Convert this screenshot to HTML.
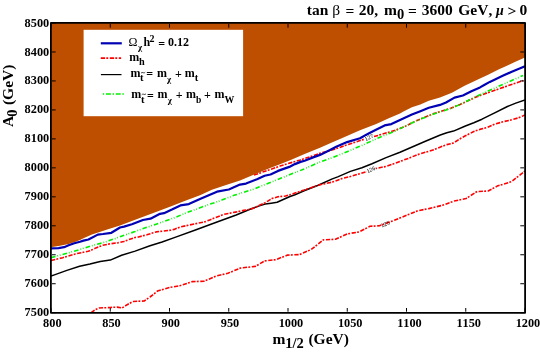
<!DOCTYPE html>
<html><head><meta charset="utf-8"><title>plot</title>
<style>
html,body{margin:0;padding:0;background:#fff;}
body{width:540px;height:355px;overflow:hidden;}
svg{display:block;}
text{font-family:"Liberation Serif",serif;font-weight:bold;fill:#000;font-kerning:none;}
.tk text{font-size:12.3px;}
.big{font-size:15px;}
.lg{font-size:12px;}
.sub{font-size:8.7px;}
.reg{font-weight:normal;}
</style></head><body>
<svg width="540" height="355" viewBox="0 0 540 355">
<rect x="0" y="0" width="540" height="355" fill="#fff"/>
<mask id="mk"><rect x="0" y="0" width="540" height="355" fill="#fff"/></mask>
<clipPath id="cp"><rect x="51" y="23" width="474" height="289.7"/></clipPath>
<g clip-path="url(#cp)" fill="none" stroke-linejoin="round">
<polyline points="254.0,175.0 256.2,174.3 262.0,172.3 268.0,170.2 280.0,166.1 286.0,164.2 300.4,160.0 313.1,155.7 320.0,153.2 331.0,150.3 340.4,147.2 345.0,145.4 350.5,143.8 361.9,139.9 378.8,135.2 395.7,130.1 405.0,126.4 416.9,120.4 433.8,113.6 450.7,108.2 460.0,104.4 476.1,97.0 497.3,89.4 523.0,80.6" stroke="#ff0000" stroke-width="1.6" stroke-dasharray="4.3 1.2 1.9 1.6"/>
<polygon points="51.0,23.0 525.0,23.0 525.0,57.5 515.4,61.8 506.9,65.7 498.5,69.5 487.6,74.9 480.0,78.6 464.6,85.8 451.9,92.7 440.0,97.4 428.8,100.8 420.4,104.6 411.9,107.2 403.5,111.4 400.0,113.5 388.8,118.2 376.2,124.1 360.0,130.2 344.6,137.0 331.9,142.5 320.0,147.8 304.6,154.1 291.9,159.6 280.0,164.3 268.8,168.6 256.2,173.7 240.0,180.5 224.6,185.5 211.9,189.7 200.0,195.2 184.6,200.9 171.9,206.0 160.0,210.5 144.6,216.3 131.9,221.0 120.0,225.5 108.8,229.1 100.4,231.7 91.9,234.6 83.5,238.2 80.0,239.9 75.0,242.0 68.6,244.1 58.5,246.1 52.0,247.0 51.0,247.2" fill="#bf4f00" stroke="none"/>
<polyline points="91.2,312.7 94.8,309.9 99.0,308.0 110.3,307.5 117.0,307.1 122.1,308.0 127.2,304.7 132.9,301.5 144.1,301.0 150.0,297.0 157.6,291.0 168.6,287.7 180.5,285.5 192.3,281.6 204.1,281.2 216.0,276.1 227.8,273.3 240.2,268.1 255.4,266.4 264.7,260.9 275.7,259.7 287.5,255.1 299.4,254.6 311.2,249.5 323.5,239.8 335.4,239.3 347.2,233.9 359.1,231.9 370.0,226.3 379.4,225.8 389.5,222.1 395.0,220.0 406.8,215.2 417.8,210.7 428.8,208.6 442.4,205.3 454.2,201.0 466.1,198.5 477.1,191.5 488.1,191.0 497.2,186.1 511.5,181.6 525.0,171.0" stroke="#ff0000" stroke-width="1.6" stroke-dasharray="4.3 1.2 1.9 1.6"/>
<polyline points="51.0,276.0 55.1,274.6 66.9,270.4 79.6,266.2 90.0,263.9 100.2,261.4 110.3,260.1 121.6,255.2 135.1,251.1 150.0,245.8 162.1,242.0 175.0,237.4 195.4,230.0 215.0,222.8 236.2,215.0 250.0,209.2 258.5,206.1 265.2,204.0 271.2,203.2 277.1,202.3 283.8,199.3 290.0,196.5 295.0,194.7 304.1,190.8 318.2,185.2 332.3,178.9 337.7,176.9 350.4,171.4 361.9,167.8 372.0,163.8 386.1,157.6 400.0,152.2 412.7,146.8 425.4,141.3 440.3,135.0 446.8,132.8 453.5,131.1 465.4,126.0 473.8,122.7 482.0,119.2 494.7,112.8 507.4,106.5 515.8,103.1 525.0,99.9" stroke="#000" stroke-width="1.5"/>
<polyline points="51.0,260.4 52.1,260.2 62.7,257.7 75.4,253.9 88.1,251.3 90.0,250.8 95.9,247.9 102.7,245.3 109.5,243.9 117.9,242.8 123.8,241.5 130.6,239.0 135.0,237.5 138.5,237.0 146.9,234.8 156.2,231.9 163.8,231.0 170.6,230.2 175.0,229.1 180.2,226.9 189.5,225.0 198.8,223.0 203.8,222.2 209.8,219.9 215.0,217.8 224.4,214.2 235.4,212.1 243.8,210.4 249.8,209.4 255.0,207.8 258.5,205.7 265.2,202.7 272.0,198.5 277.9,196.8 285.5,196.0 290.0,194.8 295.0,193.0 304.1,190.1 318.2,185.2 332.3,182.1 341.9,178.6 350.4,176.5 358.8,174.0 367.3,171.4 375.4,168.6 386.1,166.4 394.6,163.5 402.0,160.7 408.5,158.3 416.9,154.9 425.4,152.3 433.8,149.8 440.0,147.2 446.8,144.6 453.5,143.0 459.5,139.1 465.4,135.8 473.8,131.5 479.8,129.4 486.2,127.8 494.7,124.2 503.2,121.7 511.6,119.8 518.4,117.9 525.0,115.0" stroke="#ff0000" stroke-width="1.6" stroke-dasharray="4.3 1.2 1.9 1.6"/>
<polyline points="51.0,257.7 55.5,256.4 67.8,253.0 79.2,249.7 91.6,245.8 103.5,242.6 115.8,238.3 127.6,234.1 135.0,231.6 138.5,230.2 150.7,226.0 162.6,222.0 175.0,217.5 186.1,212.9 197.9,208.5 209.8,204.2 215.0,202.6 221.8,200.1 234.1,195.3 246.0,191.6 255.0,188.8 257.6,187.5 270.3,182.4 290.0,174.6 304.1,169.0 318.2,162.7 332.3,157.7 347.7,151.4 361.9,145.4 378.8,137.7 395.7,131.0 400.0,128.6 416.9,120.6 433.8,114.0 450.7,108.5 460.0,104.6 476.1,96.4 497.3,86.9 523.0,75.5" stroke="#00f000" stroke-width="1.6" stroke-dasharray="4.6 2 0.8 1.7 0.8 2.1"/>
<polyline points="51.0,248.3 58.5,248.1 64.1,247.2 68.6,245.3 74.3,243.2 80.0,241.7 83.5,240.6 88.5,239.5 97.8,234.6 102.9,234.0 111.4,232.8 120.0,227.5 124.0,226.6 131.9,224.2 142.9,220.0 150.5,218.7 160.0,213.8 164.0,213.2 171.9,209.6 180.4,205.4 188.8,204.1 200.0,199.0 211.1,194.2 217.0,191.7 228.8,189.5 240.0,184.6 246.0,183.6 257.0,179.2 264.6,175.8 270.5,174.5 278.0,170.9 283.6,168.9 289.3,166.9 294.9,164.1 300.6,161.9 304.6,160.7 313.1,157.4 320.0,154.9 325.0,152.6 330.5,149.8 336.2,146.8 347.1,142.1 360.0,138.3 369.1,133.2 377.0,129.2 384.6,125.4 391.4,124.1 400.0,119.9 411.9,114.6 420.4,111.2 428.8,107.8 440.0,104.9 446.0,102.5 454.5,97.6 462.9,95.5 471.4,91.3 480.0,87.4 484.2,85.0 489.8,81.9 495.0,79.5 502.7,75.8 511.2,72.0 519.6,68.6 525.0,66.2" stroke="#0000b4" stroke-width="2.2"/>
</g>
<!-- contour labels -->
<g mask="url(#mk)" style="font-family:'Liberation Sans',sans-serif">
<g transform="translate(369 137.5) rotate(-25)"><rect x="-4.8" y="-2.3" width="9.6" height="4.6" fill="#fff"/><text x="0" y="1.9" text-anchor="middle" style="font-weight:normal;font-family:'Liberation Sans',sans-serif;font-size:5.4px" fill="#222">127</text></g>
<g transform="translate(370.9 169.6) rotate(-25)"><rect x="-4.8" y="-2.3" width="9.6" height="4.6" fill="#fff"/><text x="0" y="1.9" text-anchor="middle" style="font-weight:normal;font-family:'Liberation Sans',sans-serif;font-size:5.4px" fill="#222">126</text></g>
<g transform="translate(385.3 224.1) rotate(-22)"><text x="0" y="1.9" text-anchor="middle" style="font-weight:normal;font-family:'Liberation Sans',sans-serif;font-size:5.4px" fill="#222">125</text></g>
</g>
<!-- legend -->
<rect x="83.6" y="29.8" width="159.5" height="86.4" fill="#fff"/>
<line x1="100.8" y1="43.3" x2="121.8" y2="43.3" stroke="#0000b4" stroke-width="2.2"/>
<line x1="100.8" y1="58.1" x2="121.1" y2="58.1" stroke="#ff0000" stroke-width="1.6" stroke-dasharray="4.3 1.2 1.9 1.6"/>
<line x1="100.9" y1="74.6" x2="121.5" y2="74.6" stroke="#000" stroke-width="1.2"/>
<line x1="102.8" y1="94" x2="124.2" y2="94" stroke="#00f000" stroke-width="1.6" stroke-dasharray="1.4 1.7 5 1.7"/>
<g mask="url(#mk)"><text x="128.53" y="45.70" style="font-size:12px;font-kerning:none;font-weight:normal;" >Ω</text>
<text x="138.05" y="50.40" style="font-size:9.0px;font-kerning:none;font-weight:bold;" >χ</text>
<text x="143.40" y="45.70" style="font-size:12px;font-kerning:none;font-weight:bold;" >h</text>
<text x="149.38" y="42.00" style="font-size:10px;font-kerning:none;font-weight:bold;" >2</text>
<text x="158.32" y="47.60" style="font-size:12px;font-kerning:none;font-weight:bold;" >=</text>
<text x="168.05" y="45.70" style="font-size:12px;font-kerning:none;font-weight:bold;" >0.12</text>
<text x="129.28" y="60.60" style="font-size:12px;font-kerning:none;font-weight:bold;" >m</text>
<text x="139.10" y="64.60" style="font-size:10.3px;font-kerning:none;font-weight:bold;" >h</text>
<text x="130.47" y="76.80" style="font-size:12px;font-kerning:none;font-weight:bold;" >m</text>
<text x="140.12" y="81.30" style="font-size:10.5px;font-kerning:none;font-weight:bold;" >t</text>
<path d="M141.00,73.10 q1,-1.1 2.1,-0.4 t2.1,-0.5" fill="none" stroke="#222" stroke-width="0.8"/>
<text x="146.32" y="78.40" style="font-size:12px;font-kerning:none;font-weight:bold;" >=</text>
<text x="156.97" y="76.80" style="font-size:12px;font-kerning:none;font-weight:bold;" >m</text>
<text x="166.95" y="81.50" style="font-size:9.0px;font-kerning:none;font-weight:bold;" >χ</text>
<text x="175.12" y="77.70" style="font-size:12px;font-kerning:none;font-weight:bold;" >+</text>
<text x="184.67" y="76.80" style="font-size:12px;font-kerning:none;font-weight:bold;" >m</text>
<text x="194.82" y="81.30" style="font-size:10.5px;font-kerning:none;font-weight:bold;" >t</text>
<text x="131.17" y="98.40" style="font-size:12px;font-kerning:none;font-weight:bold;" >m</text>
<text x="140.92" y="102.90" style="font-size:10.5px;font-kerning:none;font-weight:bold;" >t</text>
<path d="M141.80,94.70 q1,-1.1 2.1,-0.4 t2.1,-0.5" fill="none" stroke="#222" stroke-width="0.8"/>
<text x="146.92" y="100.00" style="font-size:12px;font-kerning:none;font-weight:bold;" >=</text>
<text x="157.57" y="98.40" style="font-size:12px;font-kerning:none;font-weight:bold;" >m</text>
<text x="167.85" y="103.10" style="font-size:9.0px;font-kerning:none;font-weight:bold;" >χ</text>
<text x="175.82" y="99.30" style="font-size:12px;font-kerning:none;font-weight:bold;" >+</text>
<text x="185.97" y="98.40" style="font-size:12px;font-kerning:none;font-weight:bold;" >m</text>
<text x="196.03" y="102.50" style="font-size:9.5px;font-kerning:none;font-weight:bold;" >b</text>
<text x="204.03" y="99.30" style="font-size:12px;font-kerning:none;font-weight:bold;" >+</text>
<text x="214.47" y="98.40" style="font-size:12px;font-kerning:none;font-weight:bold;" >m</text>
<text x="224.53" y="102.70" style="font-size:9.8px;font-kerning:none;font-weight:bold;" >W</text></g>
<!-- frame -->
<rect x="50.9" y="22.9" width="474.2" height="289.9" fill="none" stroke="#000" stroke-width="1.8" stroke-linejoin="round"/>
<g stroke="#000" stroke-width="1">
<line x1="51.00" y1="311.7" x2="51.00" y2="308.0"/>
<line x1="51.00" y1="24" x2="51.00" y2="27.7"/>
<line x1="110.25" y1="311.7" x2="110.25" y2="308.0"/>
<line x1="110.25" y1="24" x2="110.25" y2="27.7"/>
<line x1="169.50" y1="311.7" x2="169.50" y2="308.0"/>
<line x1="169.50" y1="24" x2="169.50" y2="27.7"/>
<line x1="228.75" y1="311.7" x2="228.75" y2="308.0"/>
<line x1="228.75" y1="24" x2="228.75" y2="27.7"/>
<line x1="288.00" y1="311.7" x2="288.00" y2="308.0"/>
<line x1="288.00" y1="24" x2="288.00" y2="27.7"/>
<line x1="347.25" y1="311.7" x2="347.25" y2="308.0"/>
<line x1="347.25" y1="24" x2="347.25" y2="27.7"/>
<line x1="406.50" y1="311.7" x2="406.50" y2="308.0"/>
<line x1="406.50" y1="24" x2="406.50" y2="27.7"/>
<line x1="465.75" y1="311.7" x2="465.75" y2="308.0"/>
<line x1="465.75" y1="24" x2="465.75" y2="27.7"/>
<line x1="525.00" y1="311.7" x2="525.00" y2="308.0"/>
<line x1="525.00" y1="24" x2="525.00" y2="27.7"/>
<line x1="52" y1="23.00" x2="55.7" y2="23.00"/>
<line x1="524" y1="23.00" x2="520.3" y2="23.00"/>
<line x1="52" y1="51.97" x2="55.7" y2="51.97"/>
<line x1="524" y1="51.97" x2="520.3" y2="51.97"/>
<line x1="52" y1="80.94" x2="55.7" y2="80.94"/>
<line x1="524" y1="80.94" x2="520.3" y2="80.94"/>
<line x1="52" y1="109.91" x2="55.7" y2="109.91"/>
<line x1="524" y1="109.91" x2="520.3" y2="109.91"/>
<line x1="52" y1="138.88" x2="55.7" y2="138.88"/>
<line x1="524" y1="138.88" x2="520.3" y2="138.88"/>
<line x1="52" y1="167.85" x2="55.7" y2="167.85"/>
<line x1="524" y1="167.85" x2="520.3" y2="167.85"/>
<line x1="52" y1="196.82" x2="55.7" y2="196.82"/>
<line x1="524" y1="196.82" x2="520.3" y2="196.82"/>
<line x1="52" y1="225.79" x2="55.7" y2="225.79"/>
<line x1="524" y1="225.79" x2="520.3" y2="225.79"/>
<line x1="52" y1="254.76" x2="55.7" y2="254.76"/>
<line x1="524" y1="254.76" x2="520.3" y2="254.76"/>
<line x1="52" y1="283.73" x2="55.7" y2="283.73"/>
<line x1="524" y1="283.73" x2="520.3" y2="283.73"/>
<line x1="52" y1="312.70" x2="55.7" y2="312.70"/>
<line x1="524" y1="312.70" x2="520.3" y2="312.70"/>
</g>
<g class="tk" mask="url(#mk)">
<text x="43.08" y="326.50" style="font-size:12.3px;font-kerning:none;font-weight:bold;" >800</text>
<text x="102.32" y="326.50" style="font-size:12.3px;font-kerning:none;font-weight:bold;" >850</text>
<text x="161.57" y="326.50" style="font-size:12.3px;font-kerning:none;font-weight:bold;" >900</text>
<text x="220.82" y="326.50" style="font-size:12.3px;font-kerning:none;font-weight:bold;" >950</text>
<text x="278.65" y="326.50" style="font-size:12.3px;font-kerning:none;font-weight:bold;" >1000</text>
<text x="337.90" y="326.50" style="font-size:12.3px;font-kerning:none;font-weight:bold;" >1050</text>
<text x="397.15" y="326.50" style="font-size:12.3px;font-kerning:none;font-weight:bold;" >1100</text>
<text x="456.40" y="326.50" style="font-size:12.3px;font-kerning:none;font-weight:bold;" >1150</text>
<text x="515.65" y="326.50" style="font-size:12.3px;font-kerning:none;font-weight:bold;" >1200</text>
<text x="49.2" y="26.55" text-anchor="end">8500</text>
<text x="49.2" y="55.52" text-anchor="end">8400</text>
<text x="49.2" y="84.49" text-anchor="end">8300</text>
<text x="49.2" y="113.46" text-anchor="end">8200</text>
<text x="49.2" y="142.43" text-anchor="end">8100</text>
<text x="49.2" y="171.40" text-anchor="end">8000</text>
<text x="49.2" y="200.37" text-anchor="end">7900</text>
<text x="49.2" y="229.34" text-anchor="end">7800</text>
<text x="49.2" y="258.31" text-anchor="end">7700</text>
<text x="49.2" y="287.28" text-anchor="end">7600</text>
<text x="49.2" y="316.25" text-anchor="end">7500</text>
</g>
<g mask="url(#mk)"><text x="306.80" y="14.65" style="font-size:15.5px;font-kerning:none;font-weight:bold;" >tan</text>
<text x="332.25" y="14.65" style="font-size:15.5px;font-kerning:none;font-weight:normal;" >β</text>
<text x="345.50" y="15.85" style="font-size:15.5px;font-kerning:none;font-weight:bold;" >=</text>
<text x="358.73" y="14.65" style="font-size:15.5px;font-kerning:none;font-weight:bold;" >20,</text>
<text x="384.08" y="14.65" style="font-size:15.5px;font-kerning:none;font-weight:bold;" >m</text>
<text x="396.95" y="18.65" style="font-size:14.5px;font-kerning:none;font-weight:bold;" >0</text>
<text x="408.00" y="15.85" style="font-size:15.5px;font-kerning:none;font-weight:bold;" >=</text>
<text x="421.83" y="14.65" style="font-size:15.5px;font-kerning:none;font-weight:bold;" textLength="30.9">3600</text>
<text x="458.30" y="14.65" style="font-size:15.5px;font-kerning:none;font-weight:bold;" >GeV,</text>
<text x="495.98" y="14.65" style="font-size:14px;font-kerning:none;font-weight:bold;font-style:italic;" >μ</text>
<text x="507.40" y="15.65" style="font-size:15.5px;font-kerning:none;font-weight:bold;" >&gt;</text>
<text x="519.52" y="14.65" style="font-size:15.5px;font-kerning:none;font-weight:bold;" >0</text>
<text x="272.48" y="344.35" style="font-size:15.5px;font-kerning:none;font-weight:bold;" >m</text>
<text x="285.33" y="347.85" style="font-size:14.5px;font-kerning:none;font-weight:bold;" >1/2</text>
<text x="308.43" y="344.35" style="font-size:15.5px;font-kerning:none;font-weight:bold;" >(GeV)</text>
<text transform="translate(13.45 126.98) rotate(-90)" style="font-size:15.5px;font-kerning:none;font-weight:bold;">A</text>
<text transform="translate(16.85 116.75) rotate(-90)" style="font-size:14.5px;font-kerning:none;font-weight:bold;">0</text>
<text transform="translate(13.45 105.08) rotate(-90)" style="font-size:15.5px;font-kerning:none;font-weight:bold;">(GeV)</text></g>
</svg>
</body></html>
